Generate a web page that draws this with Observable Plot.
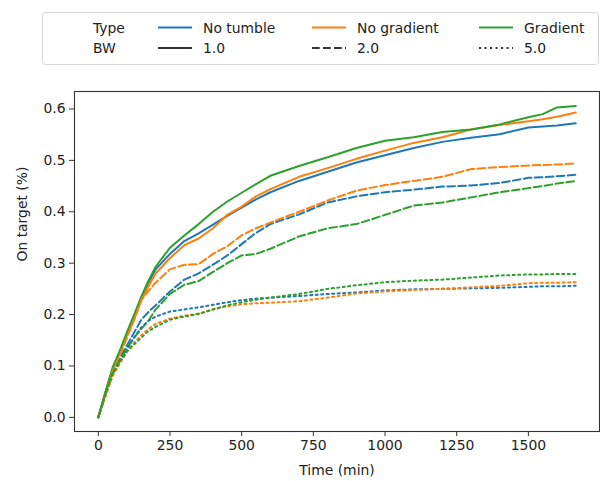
<!DOCTYPE html>
<html>
<head>
<meta charset="utf-8">
<script src="https://cdn.jsdelivr.net/npm/d3@7"></script>
<script src="https://cdn.jsdelivr.net/npm/@observablehq/plot@0.6"></script>
<style>
  html, body { margin: 0; padding: 0; background: white; }
  #wrap { width: 600px; font-family: "DejaVu Sans", sans-serif; }
  svg { display: block; }
</style>
</head>
<body>
<div id="wrap"></div>
<script>
// ---- data ----
const types = ["No tumble", "No gradient", "Gradient"];
const bws = ["1.0", "2.0", "5.0"];
const typeColors = ["#1f77b4", "#ff7f0e", "#2ca02c"];
const xTicks = [0, 250, 500, 750, 1000, 1250, 1500];
const yTicks = [0, 0.1, 0.2, 0.3, 0.4, 0.5, 0.6];

const times = [0, 25, 50, 75, 100, 125, 150, 175, 200, 250, 300, 350, 400, 450, 500, 550, 600, 700, 800, 900, 1000, 1100, 1200, 1300, 1400, 1500, 1550, 1600, 1665];

// BW 1.0
const noTumble1   = [0, 0.048, 0.094, 0.127, 0.162, 0.195, 0.232, 0.262, 0.288, 0.318, 0.343, 0.358, 0.375, 0.392, 0.408, 0.424, 0.438, 0.460, 0.478, 0.496, 0.510, 0.524, 0.536, 0.544, 0.551, 0.564, 0.566, 0.568, 0.572];
const noGradient1 = [0, 0.048, 0.093, 0.125, 0.160, 0.190, 0.228, 0.255, 0.280, 0.310, 0.335, 0.348, 0.368, 0.394, 0.410, 0.430, 0.444, 0.468, 0.485, 0.503, 0.519, 0.534, 0.545, 0.560, 0.569, 0.576, 0.580, 0.585, 0.593];
const gradient1   = [0, 0.050, 0.097, 0.130, 0.166, 0.200, 0.235, 0.266, 0.293, 0.330, 0.354, 0.376, 0.400, 0.420, 0.437, 0.454, 0.470, 0.489, 0.506, 0.524, 0.538, 0.545, 0.555, 0.560, 0.570, 0.584, 0.590, 0.603, 0.606];
// BW 2.0
const noTumble2   = [0, 0.045, 0.088, 0.115, 0.140, 0.165, 0.190, 0.205, 0.218, 0.245, 0.268, 0.280, 0.297, 0.315, 0.337, 0.359, 0.376, 0.395, 0.418, 0.430, 0.438, 0.443, 0.449, 0.451, 0.456, 0.466, 0.467, 0.469, 0.472];
const noGradient2 = [0, 0.045, 0.090, 0.120, 0.155, 0.190, 0.228, 0.246, 0.262, 0.288, 0.297, 0.298, 0.318, 0.333, 0.354, 0.368, 0.379, 0.400, 0.422, 0.441, 0.452, 0.460, 0.468, 0.483, 0.487, 0.490, 0.491, 0.492, 0.494];
const gradient2   = [0, 0.045, 0.085, 0.110, 0.135, 0.155, 0.172, 0.188, 0.210, 0.240, 0.258, 0.265, 0.283, 0.300, 0.315, 0.318, 0.328, 0.352, 0.368, 0.376, 0.394, 0.412, 0.418, 0.428, 0.438, 0.446, 0.450, 0.455, 0.460];
// BW 5.0
const noTumble5   = [0, 0.045, 0.085, 0.110, 0.132, 0.155, 0.175, 0.188, 0.196, 0.206, 0.210, 0.214, 0.219, 0.224, 0.228, 0.231, 0.233, 0.236, 0.240, 0.243, 0.247, 0.249, 0.250, 0.251, 0.252, 0.254, 0.255, 0.255, 0.256];
const noGradient5 = [0, 0.040, 0.080, 0.105, 0.128, 0.145, 0.160, 0.172, 0.182, 0.192, 0.198, 0.202, 0.210, 0.216, 0.220, 0.222, 0.223, 0.226, 0.233, 0.241, 0.245, 0.248, 0.250, 0.253, 0.256, 0.261, 0.262, 0.262, 0.263];
const gradient5   = [0, 0.045, 0.085, 0.108, 0.128, 0.142, 0.155, 0.168, 0.176, 0.190, 0.196, 0.201, 0.210, 0.218, 0.224, 0.229, 0.233, 0.240, 0.250, 0.257, 0.263, 0.266, 0.268, 0.272, 0.276, 0.278, 0.278, 0.279, 0.279];

const seriesTable = [
  ["No tumble", "1.0", noTumble1], ["No gradient", "1.0", noGradient1], ["Gradient", "1.0", gradient1],
  ["No tumble", "2.0", noTumble2], ["No gradient", "2.0", noGradient2], ["Gradient", "2.0", gradient2],
  ["No tumble", "5.0", noTumble5], ["No gradient", "5.0", noGradient5], ["Gradient", "5.0", gradient5]
];
const rows = seriesTable.flatMap(([type, bw, vals]) => vals.map((v, i) => ({time: times[i], value: v, type, bw})));

const dashes = {"1.0": null, "2.0": "7.7,3.3", "5.0": "2.1,3.4"};

// ---- legend (above the plot) ----
const wrap = document.getElementById("wrap");
const NS = "http://www.w3.org/2000/svg";
const leg = document.createElementNS(NS, "svg");
leg.setAttribute("width", 600);
leg.setAttribute("height", 76);
leg.style.fontFamily = '"DejaVu Sans", sans-serif';
leg.style.fontSize = "13.9px";
function el(tag, attrs, text) {
  const e = document.createElementNS(NS, tag);
  for (const k in attrs) e.setAttribute(k, attrs[k]);
  if (text != null) e.textContent = text;
  leg.appendChild(e);
  return e;
}
el("rect", {x: 42.5, y: 12.5, width: 556, height: 52, rx: 3, fill: "white", stroke: "#d6d6d6", "stroke-width": 1});
const colX = [48, 158, 312, 479];
const rowY = [27.5, 48];
el("text", {x: 93, y: rowY[0], "dominant-baseline": "central", fill: "#222"}, "Type");
el("text", {x: 93, y: rowY[1], "dominant-baseline": "central", fill: "#222"}, "BW");
types.forEach((t, i) => {
  const x0 = colX[i + 1];
  el("line", {x1: x0, x2: x0 + 34, y1: rowY[0], y2: rowY[0], stroke: typeColors[i], "stroke-width": 2});
  el("text", {x: x0 + 45, y: rowY[0], "dominant-baseline": "central", fill: "#222"}, t);
});
bws.forEach((b, i) => {
  const x0 = colX[i + 1];
  const ln = el("line", {x1: x0, x2: x0 + 34, y1: rowY[1], y2: rowY[1], stroke: "#333", "stroke-width": 2});
  if (dashes[b]) ln.setAttribute("stroke-dasharray", dashes[b]);
  el("text", {x: x0 + 45, y: rowY[1], "dominant-baseline": "central", fill: "#222"}, b);
});
wrap.appendChild(leg);

// ---- plot ----
const lineMarks = bws.map(b => Plot.line(rows.filter(r => r.bw === b), {
  x: "time", y: "value", z: "type", stroke: "type",
  strokeWidth: 2, strokeDasharray: dashes[b] || undefined, curve: "linear"
}));

const chart = Plot.plot({
  width: 600,
  height: 405,
  marginLeft: 74,
  marginRight: 1,
  marginTop: 15,
  marginBottom: 50,
  style: {fontFamily: '"DejaVu Sans", sans-serif', fontSize: "13.9px", color: "#222", background: "white"},
  x: {domain: [-83, 1748]},
  y: {domain: [-0.0275, 0.634]},
  color: {domain: types, range: typeColors},
  marks: [
    ...lineMarks,
    Plot.frame({stroke: "#333", strokeWidth: 1.1}),
    Plot.axisX({ticks: xTicks, tickFormat: d3.format("d"), tickSize: 5, tickPadding: 4, label: null, stroke: "#333"}),
    Plot.axisY({ticks: yTicks, tickFormat: d3.format(".1f"), tickSize: 5, tickPadding: 4, label: null, stroke: "#333"}),
    Plot.text(["Time (min)"], {frameAnchor: "bottom", dy: 39, lineAnchor: "middle", fill: "#222"}),
    Plot.text(["On target (%)"], {frameAnchor: "left", dx: -52, rotate: -90, lineAnchor: "middle", fill: "#222"})
  ]
});
wrap.appendChild(chart);
</script>
</body>
</html>
